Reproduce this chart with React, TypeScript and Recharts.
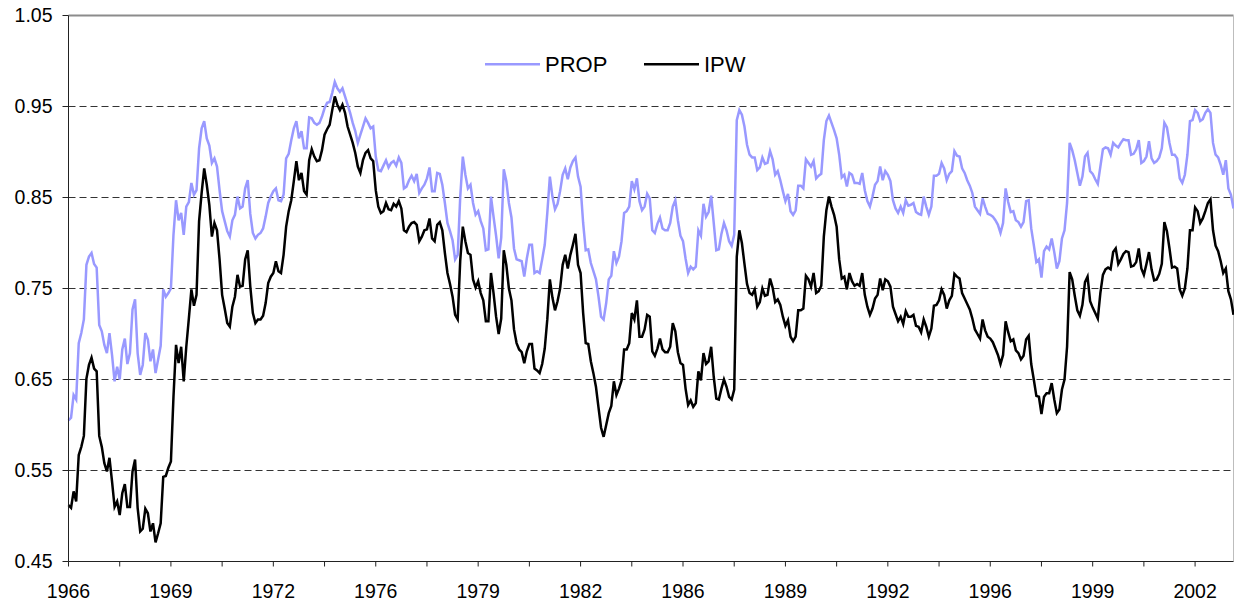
import React from "react";
import { LineChart, Line, XAxis, YAxis, ReferenceLine } from "recharts";

// monthly series, Jan 1966 .. Dec 2003
const prop = [
  0.605, 0.608, 0.633, 0.628, 0.690, 0.701, 0.716, 0.776, 0.785, 0.789,
  0.777, 0.773, 0.710, 0.703, 0.688, 0.679, 0.701, 0.677, 0.648, 0.664,
  0.650, 0.683, 0.695, 0.667, 0.679, 0.727, 0.738, 0.679, 0.655, 0.666,
  0.701, 0.694, 0.670, 0.683, 0.657, 0.672, 0.687, 0.749, 0.741, 0.745,
  0.750, 0.809, 0.847, 0.825, 0.833, 0.809, 0.840, 0.845, 0.866, 0.853,
  0.858, 0.904, 0.926, 0.934, 0.915, 0.907, 0.888, 0.893, 0.884, 0.858,
  0.835, 0.824, 0.813, 0.807, 0.825, 0.831, 0.851, 0.838, 0.840, 0.860,
  0.869, 0.832, 0.811, 0.805, 0.809,
  0.811, 0.816, 0.829, 0.844, 0.851, 0.857, 0.860, 0.847, 0.846, 0.853,
  0.893, 0.898, 0.913, 0.926, 0.934, 0.915, 0.923, 0.904, 0.904, 0.938,
  0.937, 0.932, 0.930, 0.932, 0.939, 0.948, 0.954, 0.955, 0.965, 0.977,
  0.970, 0.966, 0.970, 0.961, 0.952, 0.943, 0.932, 0.923, 0.910, 0.919,
  0.928, 0.937, 0.932, 0.926, 0.928, 0.895, 0.880, 0.879, 0.885, 0.891,
  0.883, 0.888, 0.890, 0.885, 0.894, 0.888, 0.860, 0.862, 0.869, 0.874,
  0.868, 0.876, 0.855, 0.860, 0.864, 0.871, 0.883, 0.857, 0.857, 0.877,
  0.876, 0.864, 0.844, 0.822, 0.813,
  0.803, 0.782, 0.787, 0.851, 0.895, 0.875, 0.860, 0.864, 0.844, 0.831,
  0.835, 0.824, 0.816, 0.792, 0.793, 0.851, 0.829, 0.808, 0.783, 0.806,
  0.881, 0.868, 0.844, 0.828, 0.794, 0.782, 0.781, 0.780, 0.763, 0.783,
  0.798, 0.798, 0.767, 0.769, 0.767, 0.782, 0.798, 0.833, 0.873, 0.851,
  0.837, 0.843, 0.857, 0.875, 0.882, 0.870, 0.883, 0.890, 0.894, 0.873,
  0.862, 0.822, 0.792, 0.793, 0.778, 0.769, 0.760, 0.741, 0.719, 0.716,
  0.734, 0.760, 0.764, 0.791, 0.778, 0.785, 0.802, 0.833, 0.835, 0.840,
  0.868, 0.859, 0.871, 0.846,
  0.836, 0.840, 0.854, 0.849, 0.814, 0.811, 0.821, 0.828, 0.816, 0.814,
  0.814, 0.822, 0.840, 0.847, 0.825, 0.808, 0.802, 0.783, 0.767, 0.774,
  0.771, 0.774, 0.814, 0.808, 0.843, 0.829, 0.834, 0.852, 0.822, 0.792,
  0.793, 0.810, 0.822, 0.814, 0.802, 0.797, 0.809, 0.935, 0.946, 0.941,
  0.928, 0.908, 0.897, 0.894, 0.894, 0.880, 0.883, 0.894, 0.887, 0.888,
  0.901, 0.892, 0.875, 0.879, 0.869, 0.857, 0.846, 0.854, 0.835, 0.831,
  0.836, 0.863, 0.863, 0.860, 0.892, 0.888, 0.884, 0.890, 0.871, 0.874,
  0.876, 0.913, 0.934, 0.940,
  0.932, 0.924, 0.915, 0.897, 0.872, 0.875, 0.862, 0.877, 0.875, 0.866,
  0.866, 0.865, 0.877, 0.858, 0.846, 0.840, 0.851, 0.864, 0.868, 0.884,
  0.869, 0.879, 0.875, 0.868, 0.847, 0.838, 0.833, 0.840, 0.833, 0.847,
  0.841, 0.842, 0.844, 0.834, 0.832, 0.831, 0.851, 0.840, 0.831, 0.840,
  0.874, 0.874, 0.876, 0.888, 0.882, 0.869, 0.876, 0.879, 0.901, 0.896,
  0.895, 0.882, 0.877, 0.869, 0.863, 0.855, 0.840, 0.836, 0.832, 0.849,
  0.840, 0.832, 0.831, 0.829, 0.825, 0.820, 0.811, 0.822, 0.860, 0.845,
  0.834, 0.835, 0.825, 0.823,
  0.818, 0.823, 0.846, 0.847, 0.816, 0.798, 0.779, 0.782, 0.762, 0.791,
  0.796, 0.793, 0.805, 0.790, 0.772, 0.780, 0.805, 0.814, 0.844, 0.910,
  0.902, 0.891, 0.877, 0.863, 0.873, 0.895, 0.899, 0.879, 0.876, 0.870,
  0.865, 0.884, 0.903, 0.905, 0.904, 0.897, 0.910, 0.907, 0.905, 0.910,
  0.914, 0.913, 0.913, 0.897, 0.898, 0.903, 0.913, 0.888, 0.890, 0.895,
  0.912, 0.893, 0.888, 0.890, 0.894, 0.904, 0.932, 0.927, 0.910, 0.897,
  0.897, 0.893, 0.871, 0.866, 0.875, 0.897, 0.934, 0.935, 0.946, 0.943,
  0.934, 0.936, 0.943, 0.947, 0.943, 0.910, 0.897, 0.894, 0.886, 0.875,
  0.891, 0.860, 0.853, 0.838,
];

const ipw = [
  0.512, 0.509, 0.527, 0.516, 0.567, 0.576, 0.588, 0.651, 0.666, 0.674,
  0.662, 0.659, 0.588, 0.576, 0.558, 0.549, 0.564, 0.538, 0.510, 0.516,
  0.501, 0.525, 0.535, 0.510, 0.510, 0.549, 0.562, 0.509, 0.483, 0.486,
  0.508, 0.503, 0.483, 0.492, 0.471, 0.481, 0.492, 0.543, 0.544, 0.553,
  0.560, 0.631, 0.688, 0.668, 0.686, 0.648, 0.686, 0.717, 0.749, 0.731,
  0.743, 0.824, 0.855, 0.882, 0.864, 0.842, 0.807, 0.822, 0.814, 0.782,
  0.743, 0.728, 0.712, 0.708, 0.730, 0.741, 0.765, 0.752, 0.753, 0.782,
  0.792, 0.752, 0.723, 0.712, 0.716,
  0.716, 0.720, 0.734, 0.756, 0.763, 0.767, 0.780, 0.769, 0.767, 0.787,
  0.818, 0.835, 0.847, 0.868, 0.890, 0.869, 0.877, 0.857, 0.853, 0.891,
  0.903, 0.895, 0.890, 0.891, 0.902, 0.919, 0.925, 0.930, 0.946, 0.961,
  0.952, 0.946, 0.952, 0.943, 0.928, 0.919, 0.910, 0.899, 0.884, 0.877,
  0.891, 0.899, 0.902, 0.893, 0.890, 0.858, 0.840, 0.833, 0.835, 0.844,
  0.837, 0.836, 0.843, 0.840, 0.846, 0.838, 0.814, 0.812, 0.818, 0.822,
  0.823, 0.820, 0.802, 0.807, 0.814, 0.815, 0.827, 0.805, 0.802, 0.820,
  0.823, 0.814, 0.789, 0.767, 0.755,
  0.741, 0.721, 0.716, 0.781, 0.818, 0.802, 0.789, 0.787, 0.760, 0.751,
  0.758, 0.745, 0.737, 0.714, 0.714, 0.767, 0.745, 0.719, 0.700, 0.717,
  0.792, 0.776, 0.750, 0.737, 0.705, 0.690, 0.683, 0.680, 0.668, 0.681,
  0.689, 0.689, 0.662, 0.660, 0.657, 0.667, 0.684, 0.716, 0.760, 0.740,
  0.726, 0.736, 0.750, 0.776, 0.787, 0.772, 0.787, 0.798, 0.810, 0.776,
  0.767, 0.723, 0.690, 0.689, 0.670, 0.657, 0.642, 0.619, 0.597, 0.587,
  0.600, 0.613, 0.621, 0.648, 0.633, 0.640, 0.649, 0.683, 0.683, 0.690,
  0.723, 0.716, 0.737, 0.697,
  0.697, 0.705, 0.721, 0.719, 0.681, 0.676, 0.684, 0.695, 0.683, 0.680,
  0.680, 0.686, 0.712, 0.703, 0.680, 0.668, 0.666, 0.640, 0.622, 0.627,
  0.620, 0.624, 0.659, 0.649, 0.679, 0.667, 0.670, 0.686, 0.653, 0.629,
  0.628, 0.640, 0.650, 0.642, 0.631, 0.628, 0.639, 0.785, 0.814, 0.800,
  0.777, 0.755, 0.745, 0.743, 0.749, 0.730, 0.735, 0.750, 0.742, 0.743,
  0.761, 0.751, 0.735, 0.738, 0.732, 0.719, 0.709, 0.715, 0.697, 0.692,
  0.697, 0.726, 0.726, 0.728, 0.764, 0.760, 0.752, 0.767, 0.745, 0.747,
  0.753, 0.807, 0.836, 0.851,
  0.840, 0.831, 0.818, 0.782, 0.761, 0.763, 0.749, 0.767, 0.758, 0.753,
  0.755, 0.753, 0.767, 0.743, 0.730, 0.721, 0.728, 0.739, 0.743, 0.761,
  0.748, 0.760, 0.758, 0.752, 0.730, 0.722, 0.714, 0.719, 0.711, 0.725,
  0.719, 0.719, 0.721, 0.709, 0.708, 0.702, 0.716, 0.708, 0.697, 0.706,
  0.731, 0.732, 0.737, 0.749, 0.743, 0.728, 0.737, 0.742, 0.766, 0.763,
  0.761, 0.745, 0.739, 0.733, 0.727, 0.717, 0.705, 0.700, 0.695, 0.716,
  0.704, 0.697, 0.695, 0.691, 0.684, 0.677, 0.667, 0.677, 0.714, 0.702,
  0.692, 0.694, 0.682, 0.679,
  0.672, 0.676, 0.694, 0.698, 0.667, 0.650, 0.632, 0.631, 0.612, 0.631,
  0.635, 0.635, 0.646, 0.628, 0.613, 0.617, 0.639, 0.650, 0.686, 0.768,
  0.760, 0.742, 0.726, 0.720, 0.732, 0.757, 0.763, 0.736, 0.729, 0.723,
  0.717, 0.745, 0.765, 0.771, 0.773, 0.771, 0.790, 0.794, 0.777, 0.782,
  0.788, 0.791, 0.790, 0.774, 0.775, 0.779, 0.794, 0.772, 0.765, 0.777,
  0.790, 0.771, 0.759, 0.760, 0.766, 0.777, 0.823, 0.813, 0.794, 0.773,
  0.774, 0.772, 0.749, 0.742, 0.750, 0.772, 0.814, 0.814, 0.839, 0.835,
  0.822, 0.827, 0.835, 0.844, 0.848, 0.814, 0.797, 0.791, 0.780, 0.767,
  0.772, 0.747, 0.738, 0.721,
];

// category axis: a tick every 20 months, a label every 40
const yearLabels = ["1966", "1969", "1972", "1976", "1979", "1982", "1986", "1989", "1992", "1996", "1999", "2002"];
const monthTicks = [0, 20, 40, 60, 80, 100, 120, 140, 160, 180, 200, 220, 240, 260, 280, 300, 320, 340, 360, 380, 400, 420, 440];
const yTicks = [0.45, 0.55, 0.65, 0.75, 0.85, 0.95, 1.05];
const gridValues = [0.55, 0.65, 0.75, 0.85, 0.95];

const series = [
  { key: "prop", name: "PROP", color: "#9999ff", legendX: 485 },
  { key: "ipw", name: "IPW", color: "#000000", legendX: 644 },
];

const data = prop.map((p, i) => ({ m: i, prop: p, ipw: ipw[i] }));

const FONT = "Arial, 'Liberation Sans', sans-serif";

const App = () => {
  const last = prop.length - 1;
  return (
    <div style={{ position: "absolute", left: 0, top: 0, width: 1234, height: 604, background: "#fff", fontFamily: FONT }}>
      <LineChart width={1234} height={604} data={data} margin={{ top: 15.5, right: 0.5, bottom: 0, left: 0.5 }}>
        <XAxis
          type="number"
          dataKey="m"
          domain={[0, last]}
          ticks={monthTicks}
          interval={0}
          height={42.5}
          tickSize={5}
          tickMargin={18}
          stroke="#222"
          tick={{ fill: "#000", fontSize: 19.5, fontFamily: FONT }}
          tickFormatter={(v: number) => (v % 40 === 0 ? yearLabels[v / 40] : "")}
        />
        <YAxis
          type="number"
          domain={[0.45, 1.05]}
          ticks={yTicks}
          interval={0}
          width={68}
          tickSize={6}
          tickMargin={10}
          stroke="#222"
          tick={{ fill: "#000", fontSize: 19.5, fontFamily: FONT }}
          tickFormatter={(v: number) => v.toFixed(2)}
        />
        {gridValues.map((g) => (
          <ReferenceLine key={g} y={g} stroke="#333" strokeDasharray="7 4" strokeWidth={1} />
        ))}
        <ReferenceLine y={1.05} stroke="#8c8c8c" strokeWidth={2} />
        <ReferenceLine x={last} stroke="#bdbdbd" strokeWidth={1} />
        {series.map((s) => (
          <Line
            key={s.key}
            type="linear"
            dataKey={s.key}
            stroke={s.color}
            strokeWidth={2.5}
            dot={false}
            activeDot={false}
            isAnimationActive={false}
          />
        ))}
      </LineChart>
      <svg width={1234} height={604} style={{ position: "absolute", left: 0, top: 0, pointerEvents: "none" }}>
        {series.map((s) => (
          <g key={s.key}>
            <line x1={s.legendX} x2={s.legendX + 55} y1={64.3} y2={64.3} stroke={s.color} strokeWidth={2.5} />
            <text x={s.legendX + 60} y={71.7} fontSize={22} fontFamily={FONT} fill="#000">
              {s.name}
            </text>
          </g>
        ))}
      </svg>
    </div>
  );
};

export default App;
